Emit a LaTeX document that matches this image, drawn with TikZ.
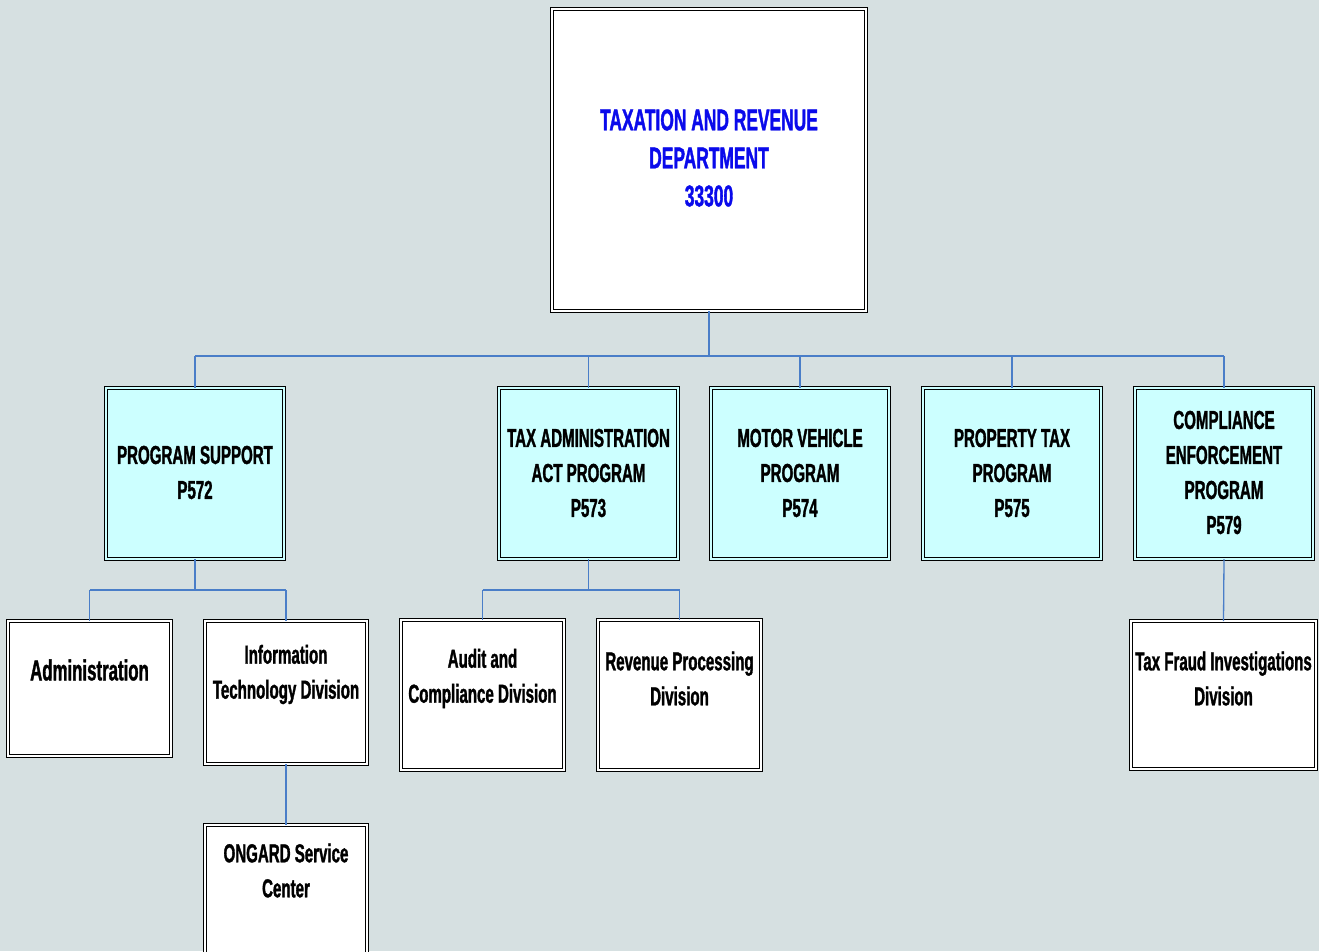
\documentclass[tikz,border=0pt]{standalone}
\usepackage{fontspec}
\setmainfont{Liberation Sans}[FakeStretch=0.58, BoldFont={Liberation Sans Bold}, BoldFeatures={FakeStretch=0.58, FakeBold=1.2}]
\definecolor{bgc}{RGB}{214,224,225}
\definecolor{cyanf}{RGB}{204,255,255}
\definecolor{linec}{RGB}{74,126,200}
\definecolor{titleblue}{RGB}{10,10,235}
\begin{document}
\begin{tikzpicture}[x=1pt,y=-1pt,
  box/.style={draw=black, line width=1.4pt, double=white, double distance=1.6pt, fill=white, inner sep=0pt, outer sep=0pt},
  progbox/.style={box, fill=cyanf, double=cyanf},
  txt/.style={font=\bfseries\fontsize{26}{35}\selectfont, align=center, inner sep=0pt},
  toptxt/.style={font=\bfseries\fontsize{30}{38}\selectfont, align=center, inner sep=0pt, text=titleblue},
  conn/.style={draw=linec, line width=1.3pt}]
\useasboundingbox (0,0) rectangle (1319,951);
\fill[bgc] (0,0) rectangle (1319,951);
% top
\node[box, minimum width=314pt, minimum height=302pt] (top) at (709,160) {};
% programs
\node[progbox, minimum width=178pt, minimum height=171pt] (ps) at (195,473.5) {};
\node[progbox, minimum width=179pt, minimum height=171pt] (ta) at (588.5,473.5) {};
\node[progbox, minimum width=178pt, minimum height=171pt] (mv) at (800,473.5) {};
\node[progbox, minimum width=178pt, minimum height=171pt] (pt) at (1012,473.5) {};
\node[progbox, minimum width=178pt, minimum height=171pt] (ce) at (1224,473.5) {};
% divisions
\node[box, minimum width=163pt, minimum height=135pt] (adm) at (89.5,688.5) {};
\node[box, minimum width=162pt, minimum height=143pt] (it) at (286,692.5) {};
\node[box, minimum width=162pt, minimum height=131pt] (on) at (286,890.5) {};
\node[box, minimum width=163pt, minimum height=150pt] (au) at (482.5,695) {};
\node[box, minimum width=163pt, minimum height=150pt] (rv) at (679.5,695) {};
\node[box, minimum width=185pt, minimum height=148pt] (tf) at (1223.5,695) {};
% connectors
\coordinate (bus) at (0,356);
\coordinate (bus2) at (0,590);
\draw[conn] (top.south) -- (top.south |- bus);
\draw[conn] (ps.north |- bus) -- (ce.north |- bus);
\foreach \n in {ps,ta,mv,pt,ce}{\draw[conn] (\n.north |- bus) -- (\n.north);}
\draw[conn] (ps.south) -- (ps.south |- bus2);
\draw[conn] (adm.north |- bus2) -- (it.north |- bus2);
\draw[conn] (adm.north |- bus2) -- (adm.north);
\draw[conn] (it.north |- bus2) -- (it.north);
\draw[conn] (ta.south) -- (ta.south |- bus2);
\draw[conn] (au.north |- bus2) -- (rv.north |- bus2);
\draw[conn] (au.north |- bus2) -- (au.north);
\draw[conn] (rv.north |- bus2) -- (rv.north);
\draw[conn] (it.south) -- (on.north);
\draw[conn] (ce.south) -- (tf.north);
% texts
\node[toptxt] (topt) at (709,158) {TAXATION AND REVENUE\\DEPARTMENT\\33300};
\node[txt] (pst) at (195,472.5) {PROGRAM SUPPORT\\P572};
\node[txt] (tat) at (588.5,473) {TAX ADMINISTRATION\\ACT PROGRAM\\P573};
\node[txt] (mvt) at (800,473) {MOTOR VEHICLE\\PROGRAM\\P574};
\node[txt] (ptt) at (1012,473) {PROPERTY TAX\\PROGRAM\\P575};
\node[txt] (cet) at (1224,472.5) {COMPLIANCE\\ENFORCEMENT\\PROGRAM\\P579};
\node[txt, font=\bfseries\fontsize{29}{35}\selectfont] (admt) at (89.5,670) {Administration};
\node[txt] (itt) at (286,674.5) {Information\\Technology Division};
\node[txt] (ont) at (286,870.5) {ONGARD Service\\Center};
\node[txt] (aut) at (482.5,678.5) {Audit and\\Compliance Division};
\node[txt] (rvt) at (679.5,678.5) {Revenue Processing\\Division};
\node[txt] (tft) at (1223.5,678.5) {Tax Fraud Investigations\\Division};
\end{tikzpicture}
\end{document}
